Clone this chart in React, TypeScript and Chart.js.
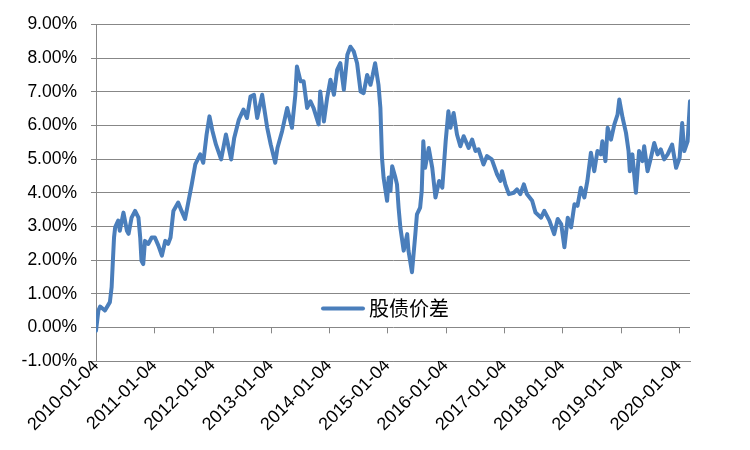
import React, { useEffect, useRef } from "react";
import { Chart, registerables } from "chart.js";

Chart.register(...registerables);

const seriesName = "股债价差";

const xTickLabels = [
  "2010-01-04", "2011-01-04", "2012-01-04", "2013-01-04", "2014-01-04", "2015-01-04",
  "2016-01-04", "2017-01-04", "2018-01-04", "2019-01-04", "2020-01-04",
];

const yTicks = [-1, 0, 1, 2, 3, 4, 5, 6, 7, 8, 9];

const dates = [
  "2010-01-04", "2010-01-19", "2010-01-30", "2010-03-01", "2010-04-01", "2010-04-12", "2010-04-19", "2010-04-27",
  "2010-05-04", "2010-05-23", "2010-06-02", "2010-06-25", "2010-07-17", "2010-07-27", "2010-08-15", "2010-09-06",
  "2010-09-27", "2010-10-08", "2010-10-16", "2010-10-27", "2010-11-07", "2010-11-28", "2010-12-19",
  "2011-01-08", "2011-01-30", "2011-02-21", "2011-03-14", "2011-04-01", "2011-04-16", "2011-05-04", "2011-06-03",
  "2011-06-24", "2011-07-16", "2011-08-07", "2011-08-27", "2011-09-18", "2011-10-19", "2011-11-07", "2011-11-28",
  "2011-12-16",
  "2012-01-04", "2012-01-26", "2012-02-27", "2012-03-28", "2012-04-30", "2012-05-19", "2012-06-17", "2012-07-16",
  "2012-08-07", "2012-08-29", "2012-09-20", "2012-10-10", "2012-11-10", "2012-12-12",
  "2013-01-03", "2013-01-31", "2013-02-14", "2013-03-15", "2013-04-16", "2013-05-16", "2013-06-06", "2013-06-16",
  "2013-07-09", "2013-07-28", "2013-08-19", "2013-09-09", "2013-09-28", "2013-10-30", "2013-11-09", "2013-12-02",
  "2013-12-22",
  "2014-01-12", "2014-02-03", "2014-02-23", "2014-03-15", "2014-04-06", "2014-04-28", "2014-05-17", "2014-06-07",
  "2014-06-28", "2014-07-20", "2014-08-08", "2014-08-30", "2014-09-20", "2014-10-04", "2014-10-19", "2014-11-09",
  "2014-11-21", "2014-12-01", "2014-12-11",
  "2015-01-02", "2015-01-12", "2015-01-23", "2015-02-03", "2015-02-23", "2015-03-05", "2015-03-15", "2015-03-26",
  "2015-04-16", "2015-05-08", "2015-05-16", "2015-06-07", "2015-06-28", "2015-07-08", "2015-07-28", "2015-08-07",
  "2015-08-17", "2015-08-28", "2015-09-20", "2015-10-12", "2015-11-01", "2015-11-24", "2015-12-14",
  "2016-01-04", "2016-01-21", "2016-02-03", "2016-02-23", "2016-03-15", "2016-04-05", "2016-04-26", "2016-05-27",
  "2016-06-18", "2016-07-09", "2016-07-28", "2016-08-28", "2016-09-19", "2016-10-19", "2016-11-21", "2016-12-12",
  "2016-12-22",
  "2017-01-12", "2017-02-03", "2017-03-06", "2017-03-26", "2017-04-16", "2017-05-08", "2017-05-27", "2017-06-29",
  "2017-07-20", "2017-08-24", "2017-09-13", "2017-10-15", "2017-11-14", "2017-12-06", "2017-12-28",
  "2018-01-17", "2018-02-07", "2018-02-28", "2018-03-21", "2018-04-09", "2018-04-30", "2018-05-22", "2018-06-10",
  "2018-07-02", "2018-07-23", "2018-08-12", "2018-09-02", "2018-09-12", "2018-10-01", "2018-10-15", "2018-11-05",
  "2018-11-26", "2018-12-16", "2018-12-27",
  "2019-01-17", "2019-02-07", "2019-02-23", "2019-03-03", "2019-03-19", "2019-04-10", "2019-04-30", "2019-05-21",
  "2019-06-01", "2019-06-22", "2019-07-13", "2019-08-03", "2019-08-24", "2019-09-13", "2019-10-04", "2019-10-26",
  "2019-11-23", "2019-12-18",
  "2020-01-09", "2020-01-25", "2020-02-07", "2020-02-28", "2020-03-14",
];

const spread = [
  -0.1, 0.5, 0.62, 0.5, 0.75, 1.2, 1.9, 2.67,
  2.97, 3.17, 2.87, 3.41, 2.87, 2.78, 3.26, 3.46,
  3.26, 2.67, 1.98, 1.88, 2.57, 2.48, 2.67,
  2.67, 2.43, 2.13, 2.57, 2.48, 2.67, 3.46, 3.71,
  3.46, 3.22, 3.76, 4.25, 4.84, 5.14, 4.89, 5.73,
  6.27,
  5.83, 5.43, 4.99, 5.73, 4.99, 5.63, 6.17, 6.47,
  6.22, 6.86, 6.91, 6.22, 6.91, 5.93,
  5.43, 4.89, 5.33, 5.83, 6.52, 5.93, 6.91, 7.75,
  7.31, 7.31, 6.52, 6.72, 6.52, 6.03, 7.01, 6.12,
  6.81,
  7.36, 6.91, 7.65, 7.85, 7.06, 8.1, 8.34, 8.2,
  7.85, 7.01, 6.96, 7.5, 7.21, 7.5, 7.85, 7.21,
  6.52, 5.04, 4.45,
  3.76, 4.45, 4.05, 4.79, 4.45, 4.25, 3.56, 2.97,
  2.28, 2.77, 2.28, 1.64, 2.77, 3.36, 3.56, 4.05,
  5.53, 4.74, 5.33, 4.74, 3.86, 4.35, 4.15,
  5.53, 6.42, 5.93, 6.37, 5.73, 5.38, 5.68, 5.33,
  5.58, 5.24, 5.29, 4.84, 5.09, 4.99, 4.55, 4.35,
  4.64,
  4.25, 3.96, 4.0, 4.1, 3.96, 4.25, 3.96, 3.76,
  3.41, 3.26, 3.46, 3.17, 2.77, 3.22, 3.07,
  2.38, 3.26, 2.97, 3.66, 3.61, 4.15, 3.86, 4.35,
  5.19, 4.64, 5.24, 5.14, 5.53, 4.94, 5.93, 5.58,
  6.03, 6.32, 6.77,
  6.22, 5.78, 5.24, 4.64, 5.14, 4.0, 5.24, 4.94,
  5.38, 4.64, 5.04, 5.48, 5.14, 5.29, 4.99, 5.14,
  5.43, 4.74,
  5.04, 6.07, 5.24, 5.53, 6.72,
];

const LINE_COLOR = "#4A7EBB";
const GRID_COLOR = "#878787";
const FONT = "Liberation Sans";

const zeroTicksPlugin = {
  id: "zeroTicks",
  beforeDatasetsDraw(chart: any) {
    const xs = chart.scales.x;
    const ys = chart.scales.y;
    const ctx = chart.ctx;
    const y0 = ys.getPixelForValue(0);
    ctx.save();
    ctx.strokeStyle = GRID_COLOR;
    ctx.lineWidth = 1;
    xs.ticks.forEach((t: any) => {
      const x = Math.round(xs.getPixelForValue(t.value)) + 0.5;
      ctx.beginPath();
      ctx.moveTo(x, y0);
      ctx.lineTo(x, y0 + 6);
      ctx.stroke();
    });
    ctx.restore();
  },
};

const legendPlugin = {
  id: "innerLegend",
  afterDraw(chart: any) {
    const ctx = chart.ctx;
    const area = chart.chartArea;
    const x0 = area.left + 227;
    const y = area.top + 284;
    ctx.save();
    ctx.strokeStyle = LINE_COLOR;
    ctx.lineWidth = 4;
    ctx.lineCap = "round";
    ctx.beginPath();
    ctx.moveTo(x0, y);
    ctx.lineTo(x0 + 40, y);
    ctx.stroke();
    ctx.fillStyle = "#000";
    ctx.font = '20px "Noto Sans CJK SC"';
    ctx.textBaseline = "middle";
    ctx.textAlign = "left";
    ctx.fillText(seriesName, x0 + 46, y);
    ctx.restore();
  },
};

export default function App() {
  const ref = useRef<HTMLCanvasElement | null>(null);

  useEffect(() => {
    if (!ref.current) return;
    const points = dates.map((d, i) => ({ x: Date.parse(d), y: spread[i] }));
    const chart = new Chart(ref.current, {
      type: "line",
      data: {
        datasets: [
          {
            label: seriesName,
            data: points,
            borderColor: LINE_COLOR,
            backgroundColor: LINE_COLOR,
            borderWidth: 4,
            pointRadius: 0,
            tension: 0,
            borderJoinStyle: "round",
            borderCapStyle: "round",
          },
        ],
      },
      options: {
        animation: false,
        responsive: false,
        maintainAspectRatio: false,
        layout: { padding: { top: 23, right: 60, left: 0, bottom: 0 } },
        plugins: { legend: { display: false }, tooltip: { enabled: false } },
        scales: {
          x: {
            type: "linear",
            min: Date.parse(xTickLabels[0]),
            max: Date.parse(dates[dates.length - 1]),
            afterBuildTicks: (axis: any) => {
              axis.ticks = xTickLabels.map((s) => ({ value: Date.parse(s) }));
            },
            afterFit: (scale: any) => {
              scale.height = 89;
            },
            grid: { display: true, drawOnChartArea: false, drawTicks: false, tickLength: 0 },
            border: { display: true, color: GRID_COLOR, width: 1 },
            ticks: {
              autoSkip: false,
              maxRotation: 45,
              minRotation: 45,
              padding: -6,
              color: "#000",
              font: { family: FONT, size: 18 },
              callback: (_v: any, i: number) => xTickLabels[i],
            },
          },
          y: {
            min: -1,
            max: 9,
            afterBuildTicks: (axis: any) => {
              axis.ticks = yTicks.map((v) => ({ value: v }));
            },
            afterFit: (scale: any) => {
              scale.width = 96;
            },
            grid: { color: GRID_COLOR, lineWidth: 1, tickLength: 5, tickColor: GRID_COLOR },
            border: { display: true, color: GRID_COLOR, width: 1 },
            ticks: {
              padding: 14,
              color: "#000",
              font: { family: FONT, size: 17.5 },
              callback: (v: any) => Number(v).toFixed(2) + "%",
            },
          },
        },
      },
      plugins: [zeroTicksPlugin, legendPlugin],
    });
    return () => chart.destroy();
  }, []);

  return (
    <div style={{ position: "fixed", left: 0, top: 0, width: 750, height: 450, background: "#fff" }}>
      <canvas ref={ref} width={750} height={450} style={{ width: 750, height: 450 }} />
    </div>
  );
}
